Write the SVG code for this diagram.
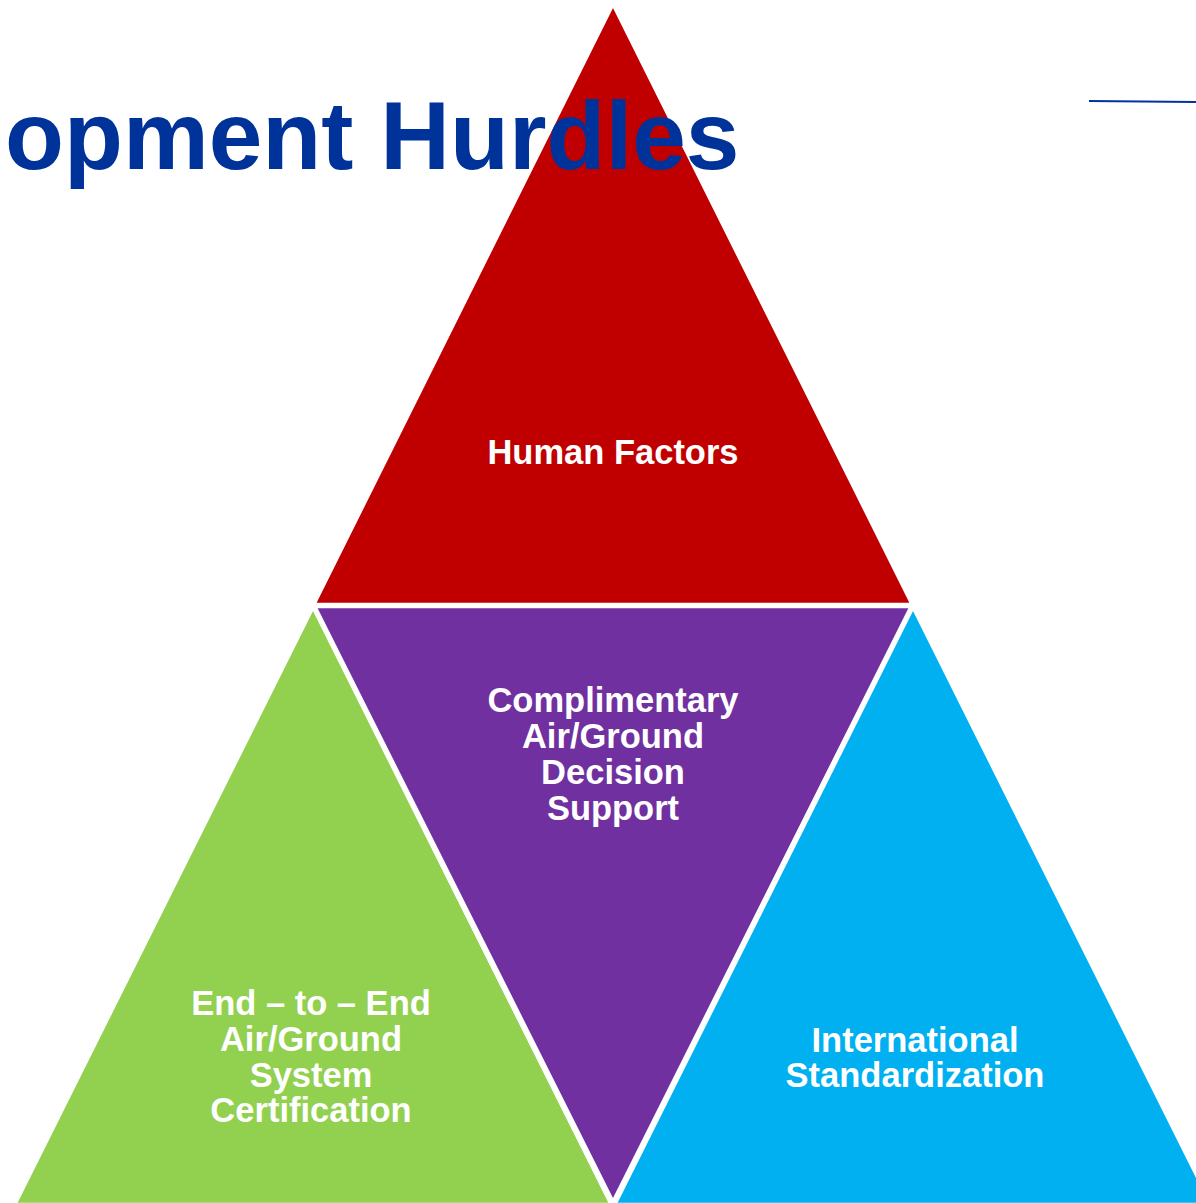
<svg xmlns="http://www.w3.org/2000/svg" width="1196" height="1203" viewBox="0 0 1196 1203">
<style>
.tri{stroke:#FFFFFF;stroke-width:4.5;stroke-linejoin:miter}
.lbl{font-family:"Liberation Sans",Arial,sans-serif;font-weight:bold;font-size:34.5px;fill:#FFFFFF;text-anchor:middle}
.title{font-family:"Liberation Sans",Arial,sans-serif;font-weight:bold;font-size:96.5px;fill:#003399}
</style>
<rect width="1196" height="1203" fill="#FFFFFF"/>
<g id="human-factors">
<polygon class="tri" points="613,3 313,605 913,605" fill="#C00000"/>
<text class="lbl" x="613" y="464">Human Factors</text>
</g>
<g id="decision-support">
<polygon class="tri" points="314,606 912,606 613,1203" fill="#7030A0"/>
<text class="lbl" x="613" y="712">Complimentary</text>
<text class="lbl" x="613" y="748">Air/Ground</text>
<text class="lbl" x="613" y="784">Decision</text>
<text class="lbl" x="613" y="820">Support</text>
</g>
<g id="certification">
<polygon class="tri" points="313,606 14,1205 612,1205" fill="#92D050"/>
<text class="lbl" x="311" y="1015">End – to – End</text>
<text class="lbl" x="311" y="1051">Air/Ground</text>
<text class="lbl" x="311" y="1087">System</text>
<text class="lbl" x="311" y="1122">Certification</text>
</g>
<g id="standardization">
<polygon class="tri" points="913,606 614,1205 1212,1205" fill="#00B0F0"/>
<text class="lbl" x="915" y="1052">International</text>
<text class="lbl" x="915" y="1087">Standardization</text>
</g>
<g id="title">
<text class="title" x="5" y="169">opment Hurdles</text>
<line x1="1089" y1="101" x2="1196" y2="102" stroke="#0033A0" stroke-width="2"/>
</g>
<g id="connectors"></g>
</svg>
